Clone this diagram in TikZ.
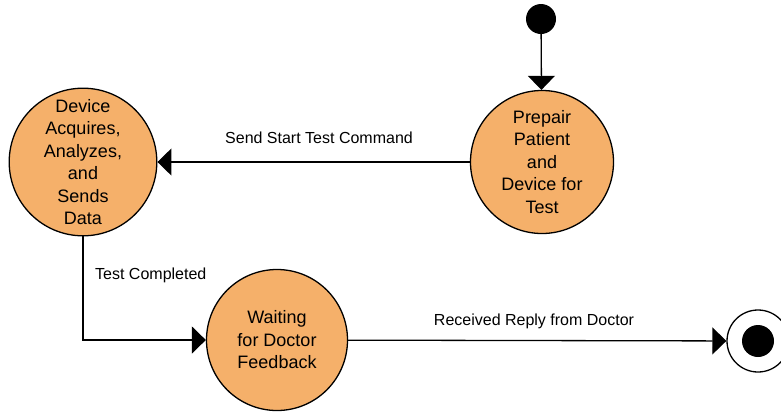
\documentclass[tikz,border=0pt]{standalone}
\usepackage{fontspec}
\setmainfont{Liberation Sans}
\usetikzlibrary{arrows.meta}
\definecolor{stfill}{RGB}{245,176,106}
\begin{document}
\begin{tikzpicture}[x=1pt,y=-1pt,
  state/.style={circle,draw=black,line width=1.3pt,fill=stfill,minimum size=143pt,inner sep=0pt,align=center,font=\fontsize{18}{22.5}\selectfont},
  conn/.style={line width=1.3pt,-{Triangle[length=14pt,width=27pt]}},
  lbl/.style={font=\fontsize{16}{19}\selectfont,inner sep=0pt}]
\useasboundingbox (0,0) rectangle (781,413);
\node[circle,fill=black,minimum size=30pt,inner sep=0pt] (start) at (541,19) {};
\node[state] (prep) at (542,162) {Prepair\\Patient\\and\\Device for\\Test};
\node[state] (dev) at (83,162) {Device\\Acquires,\\Analyzes,\\and\\Sends\\Data};
\node[state,minimum size=141pt] (wait) at (277,340) {Waiting\\for Doctor\\Feedback};
\node[circle,draw=black,line width=1.3pt,fill=white,minimum size=62pt,inner sep=0pt] (fin) at (758,341) {};
\node[circle,fill=black,minimum size=32pt,inner sep=0pt] (findot) at (fin) {};
\coordinate (corner) at (83,340);
\draw[conn] (start) -- (prep);
\draw[conn] (prep) -- (dev);
\draw[conn] (dev.south) -- (corner) -- (wait.west);
\draw[conn] (wait) -- (fin);
\node[lbl] (l1) at (319,138) {Send Start Test Command};
\node[lbl,anchor=west] (l2) at (95,275) {Test Completed};
\node[lbl] (l3) at (534,321) {Received Reply from Doctor};
\end{tikzpicture}
\end{document}
